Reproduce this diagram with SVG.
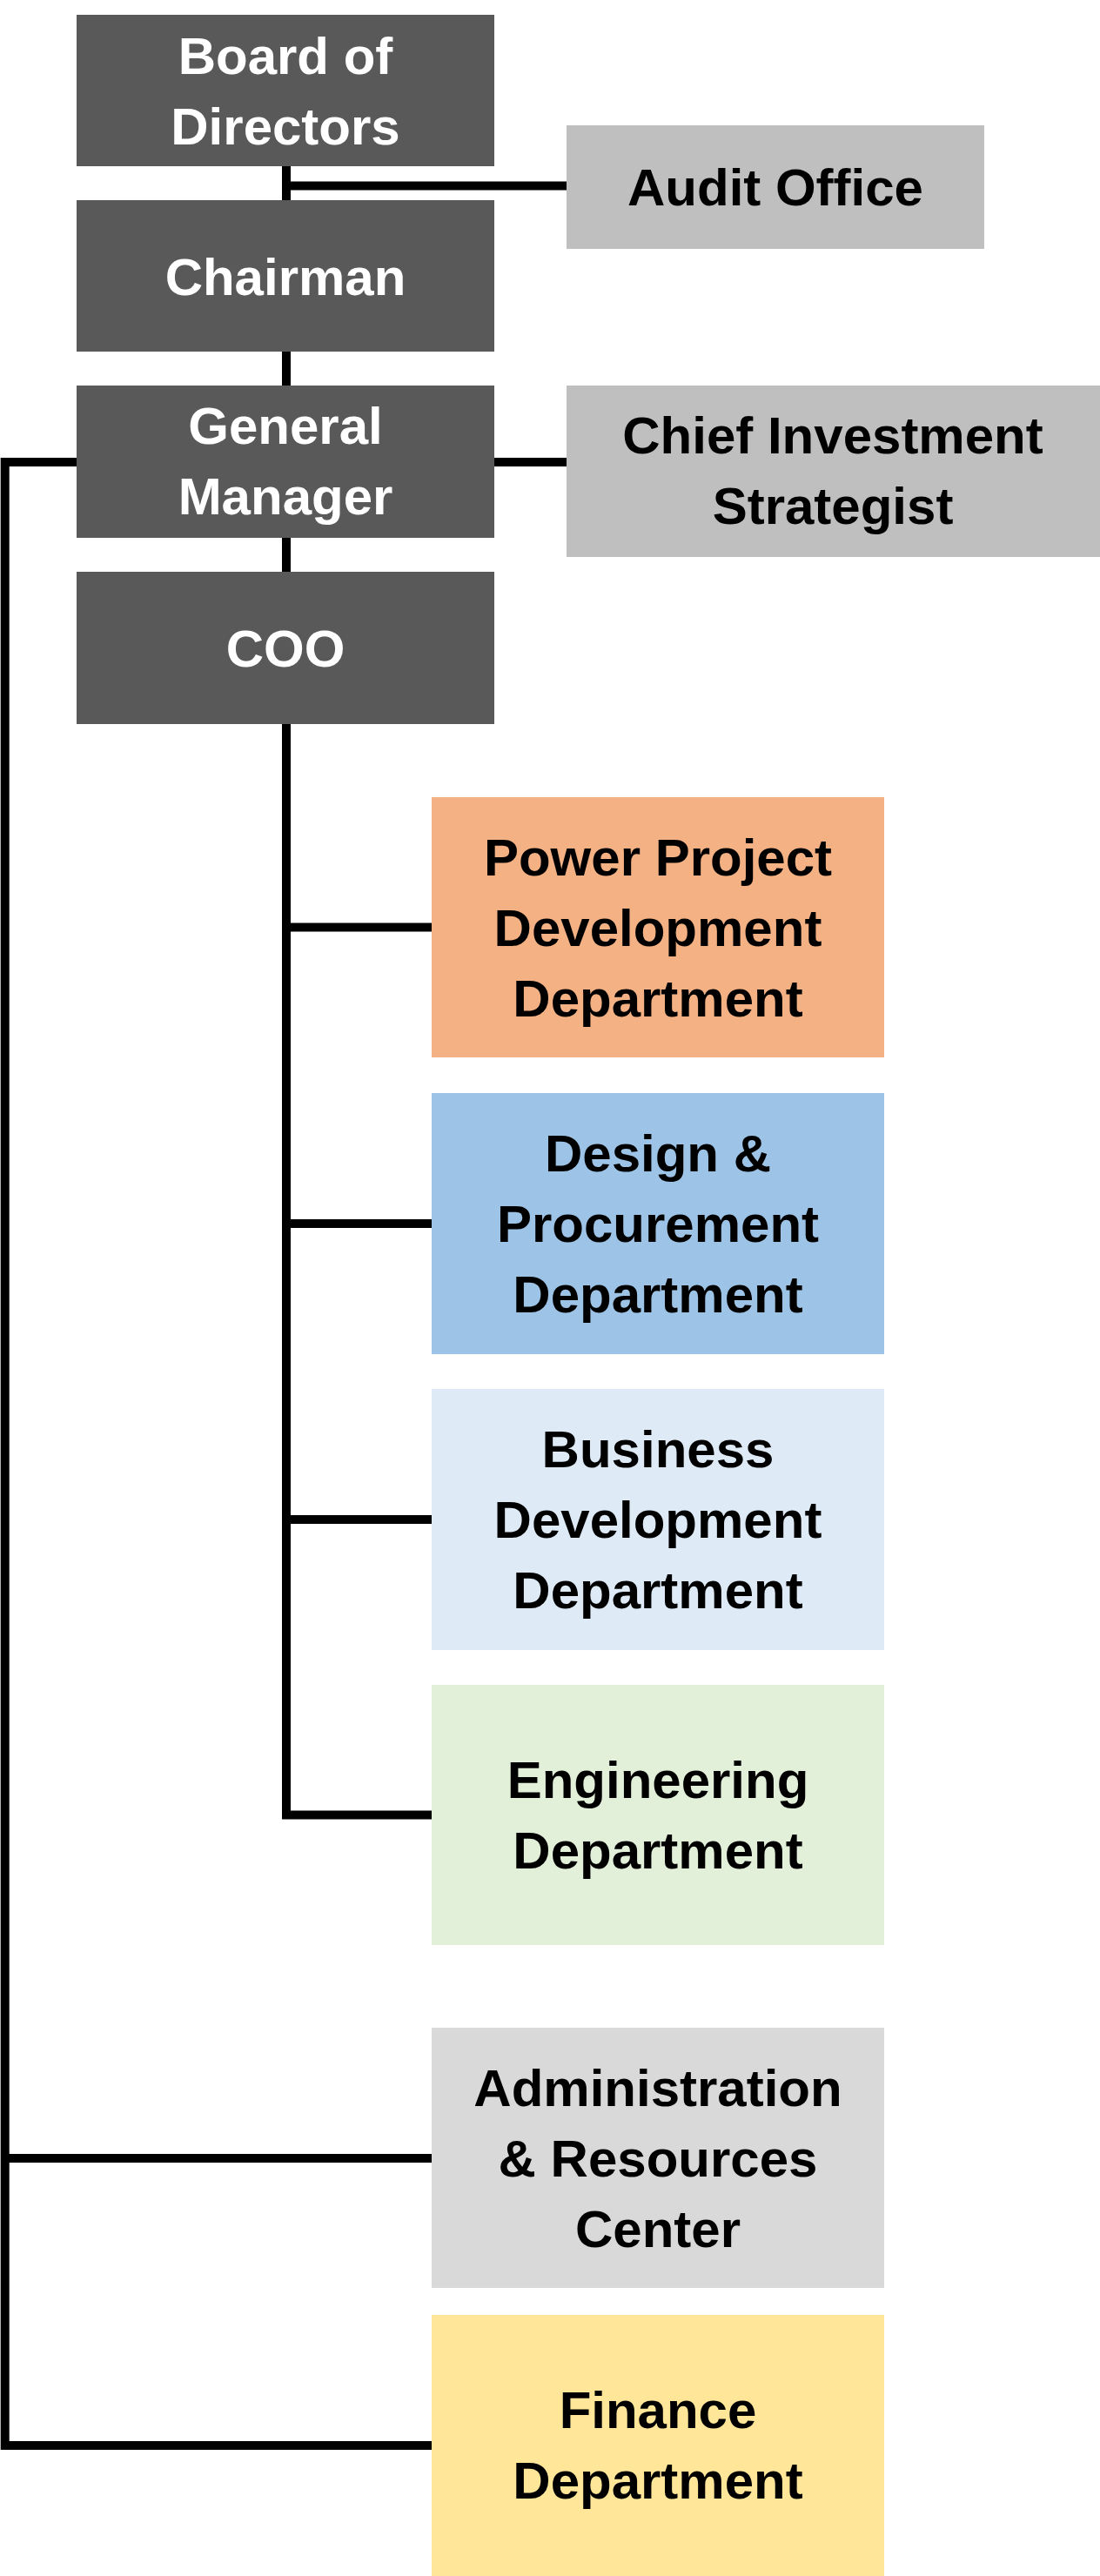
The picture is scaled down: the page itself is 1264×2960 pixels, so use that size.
<svg xmlns="http://www.w3.org/2000/svg" width="1264" height="2960" viewBox="0 0 1264 2960">
<style>
.dk{fill:#595959}
.t{font-family:"Liberation Sans",Arial,sans-serif;font-weight:bold;font-size:60px;text-anchor:middle}
.w{fill:#ffffff}
.b{fill:#000000}
.c{fill:none;stroke:#000000;stroke-width:10;stroke-linejoin:miter;stroke-linecap:butt}
</style>
<rect width="1264" height="2960" fill="#ffffff"/>
<g id="connectors">
<path class="c" d="M329 191 V230 M329 404 V443 M329 618 V657"/>
<path class="c" d="M329 213.5 H651"/>
<path class="c" d="M568 531 H651"/>
<path class="c" d="M329 831 V2085.5 H496"/>
<path class="c" d="M329 1065.5 H496 M329 1406 H496 M329 1746 H496"/>
<path class="c" d="M88 531 H5.7 V2810 H496"/>
<path class="c" d="M5.7 2480 H496"/>
</g>
<g id="board">
<rect class="dk" x="88" y="17" width="480" height="174"/>
<text class="t w" x="328" y="85">Board of</text>
<text class="t w" x="328" y="166">Directors</text>
</g>
<g id="audit">
<rect fill="#bfbfbf" x="651" y="144" width="480" height="142"/>
<text class="t b" x="891" y="236">Audit Office</text>
</g>
<g id="chairman">
<rect class="dk" x="88" y="230" width="480" height="174"/>
<text class="t w" x="328" y="339">Chairman</text>
</g>
<g id="gm">
<rect class="dk" x="88" y="443" width="480" height="175"/>
<text class="t w" x="328" y="510">General</text>
<text class="t w" x="328" y="591">Manager</text>
</g>
<g id="cis">
<rect fill="#bfbfbf" x="651" y="443" width="613" height="197"/>
<text class="t b" x="957" y="521">Chief Investment</text>
<text class="t b" x="957" y="602">Strategist</text>
</g>
<g id="coo">
<rect class="dk" x="88" y="657" width="480" height="175"/>
<text class="t w" x="328" y="766">COO</text>
</g>
<g id="power">
<rect fill="#f4b183" x="496" y="916" width="520" height="299"/>
<text class="t b" x="756" y="1006">Power Project</text>
<text class="t b" x="756" y="1087">Development</text>
<text class="t b" x="756" y="1168">Department</text>
</g>
<g id="design">
<rect fill="#9dc3e6" x="496" y="1256" width="520" height="300"/>
<text class="t b" x="756" y="1346">Design &amp;</text>
<text class="t b" x="756" y="1427">Procurement</text>
<text class="t b" x="756" y="1508">Department</text>
</g>
<g id="business">
<rect fill="#deebf7" x="496" y="1596" width="520" height="300"/>
<text class="t b" x="756" y="1686">Business</text>
<text class="t b" x="756" y="1767">Development</text>
<text class="t b" x="756" y="1848">Department</text>
</g>
<g id="engineering">
<rect fill="#e2f0d9" x="496" y="1936" width="520" height="299"/>
<text class="t b" x="756" y="2066">Engineering</text>
<text class="t b" x="756" y="2147">Department</text>
</g>
<g id="admin">
<rect fill="#d9d9d9" x="496" y="2330" width="520" height="299"/>
<text class="t b" x="756" y="2420">Administration</text>
<text class="t b" x="756" y="2501">&amp; Resources</text>
<text class="t b" x="756" y="2582">Center</text>
</g>
<g id="finance">
<rect fill="#ffe699" x="496" y="2660" width="520" height="300"/>
<text class="t b" x="756" y="2790">Finance</text>
<text class="t b" x="756" y="2871">Department</text>
</g>
</svg>
